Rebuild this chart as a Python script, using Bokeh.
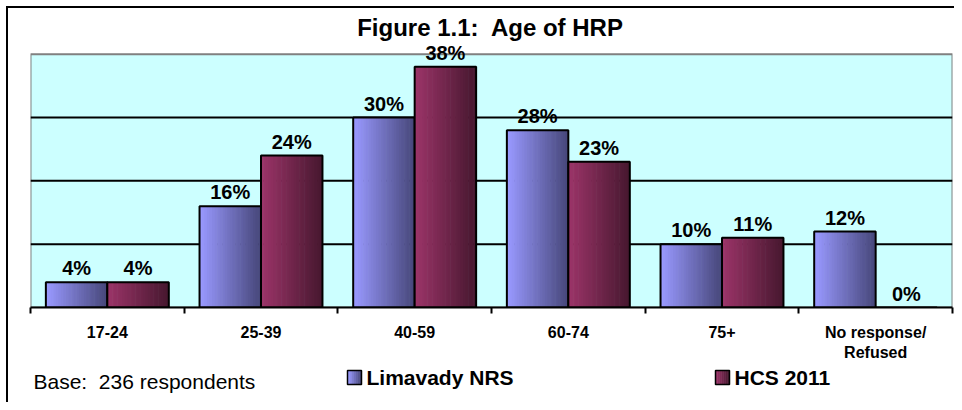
from bokeh.plotting import figure
from bokeh.layouts import column
from bokeh.models import ColumnDataSource, FixedTicker, LabelSet, Range1d
from bokeh.core.properties import value
from bokeh.embed import file_html
from bokeh.resources import INLINE

# ---------------- data ----------------
categories = ["17-24", "25-39", "40-59", "60-74", "75+", "No response/\nRefused"]
limavady = [4, 16, 30, 28, 10, 12]
hcs2011 = [4, 24, 38, 23, 11, 0]
series_names = ["Limavady NRS", "HCS 2011"]
grid_values = [10, 20, 30]
y_max = 40
title_text = "Figure 1.1:\u00a0 Age of HRP"
base_text = "Base:\u00a0 236 respondents"

# ---------------- style ----------------
FONT = "Liberation Sans"
BLUE = ((153, 153, 255), (72, 72, 124))
RED = ((155, 52, 104), (72, 24, 48))
N_STRIPS = 24
BAR_W = 0.4

# page geometry (screen px)
OX, OY = 8, 8                      # canvas origin
FX0, FX1, FY0, FY1 = 30.0, 952.0, 54.0, 309.0   # plot area
W = 946
H1 = 355
H2 = 39
PX_PER_UNIT = (FY1 - FY0) / y_max
y_top = y_max + (FY0 - OY) / PX_PER_UNIT


def dx(px):
    return (px - FX0) / (FX1 - FX0) * len(categories)


def dy(py):
    return (FY1 - py) / PX_PER_UNIT


def lerp(c0, c1, t):
    return "#%02x%02x%02x" % tuple(int(round(a + (b - a) * t)) for a, b in zip(c0, c1))


def add_text(fig, x, y, text, size, bold=True, align="left", y_offset=0):
    src = ColumnDataSource(dict(x=list(x), y=list(y), t=list(text)))
    fig.add_layout(LabelSet(x="x", y="y", text="t", source=src, text_align=align,
                            text_baseline="alphabetic", y_offset=y_offset,
                            text_font=value(FONT),
                            text_font_style="bold" if bold else "normal",
                            text_font_size=size, text_color="black"))


# ---------------- main chart ----------------
p = figure(width=W, height=H1, output_backend="svg", toolbar_location=None,
           x_range=Range1d(0, len(categories)), y_range=Range1d(0, y_top),
           y_axis_location=None, title=None,
           min_border_left=int(FX0 - OX), min_border_top=0,
           min_border_right=int(OX + W - FX1), min_border_bottom=int(OY + H1 - FY1))
p.background_fill_color = "white"
p.border_fill_color = "white"
p.outline_line_color = None
p.grid.visible = False

# plot area
p.quad(left=[0], right=[len(categories)], bottom=[0], top=[y_max],
       fill_color="#CCFFFF", line_color="#808080", line_width=2)
# gridlines
p.segment(x0=[0] * len(grid_values), x1=[len(categories)] * len(grid_values),
          y0=grid_values, y1=grid_values, line_color="black", line_width=2)


def gradient_bars(offset, vals, cols):
    xs, ws, tops, colors = [], [], [], []
    sw = BAR_W / N_STRIPS
    for i, v in enumerate(vals):
        left = i + offset
        for k in range(N_STRIPS):
            xs.append(left + (k + 0.5) * sw)
            ws.append(sw * 1.25)
            tops.append(v)
            colors.append(lerp(cols[0], cols[1], k / (N_STRIPS - 1)))
    p.vbar(x=xs, width=ws, top=tops, bottom=0, fill_color=colors, line_color=None)
    centers = [i + offset + BAR_W / 2 for i in range(len(vals))]
    p.vbar(x=centers, width=BAR_W, top=vals, bottom=0, fill_color=None,
           line_color="black", line_width=2)
    add_text(p, centers, vals, ["%d%%" % v for v in vals], "20px",
             align="center", y_offset=7)


gradient_bars(0.1, limavady, BLUE)
gradient_bars(0.5, hcs2011, RED)

# x axis
ax = p.xaxis[0]
ax.ticker = FixedTicker(ticks=[i + 0.5 for i in range(len(categories))],
                        minor_ticks=list(range(len(categories) + 1)))
ax.major_label_overrides = {i + 0.5: c for i, c in enumerate(categories)}
ax.major_tick_line_color = None
ax.major_tick_in = 0
ax.major_tick_out = 6
ax.minor_tick_in = 0
ax.minor_tick_out = 6
ax.minor_tick_line_color = "black"
ax.minor_tick_line_width = 2
ax.axis_line_color = "black"
ax.axis_line_width = 2
ax.major_label_standoff = 10
ax.major_label_text_font = FONT
ax.major_label_text_font_style = "bold"
ax.major_label_text_font_size = "16px"
ax.major_label_text_color = "black"

# title (inside the extended frame)
add_text(p, [dx(490)], [dy(36)], [title_text], "24px", align="center")

# ---------------- legend / base row ----------------
Y2 = OY + H1   # screen y of second canvas top
q = figure(width=W, height=H2, output_backend="svg", toolbar_location=None,
           x_range=Range1d(FX0, FX1), y_range=Range1d(Y2 + H2, Y2),
           x_axis_location=None, y_axis_location=None, title=None,
           min_border_left=int(FX0 - OX), min_border_right=int(OX + W - FX1),
           min_border_top=0, min_border_bottom=0)
q.background_fill_color = "white"
q.border_fill_color = "white"
q.outline_line_color = None
q.grid.visible = False

add_text(q, [33], [388], [base_text], "21px", bold=False)

legend_sq_x = [347, 715]
legend_cols = [BLUE, RED]
SQ = 14
for name, sx, cols in zip(series_names, legend_sq_x, legend_cols):
    n = 7
    lefts = [sx + k * SQ / n for k in range(n)]
    q.quad(left=lefts, right=[l + SQ / n + 0.4 for l in lefts],
           top=[370] * n, bottom=[370 + SQ] * n,
           fill_color=[lerp(cols[0], cols[1], k / (n - 1)) for k in range(n)],
           line_color=None)
    q.quad(left=[sx], right=[sx + SQ], top=[370], bottom=[370 + SQ],
           fill_color=None, line_color="black", line_width=1.5)
    add_text(q, [sx + SQ + 5], [384], [name], "21px")

layout = column(p, q, spacing=0, margin=(OY - 2, 0, 0, OX - 2),
                styles={"border-left": "2px solid black",
                        "border-top": "2px solid black"})

open("out.html", "w").write(file_html(layout, INLINE))
